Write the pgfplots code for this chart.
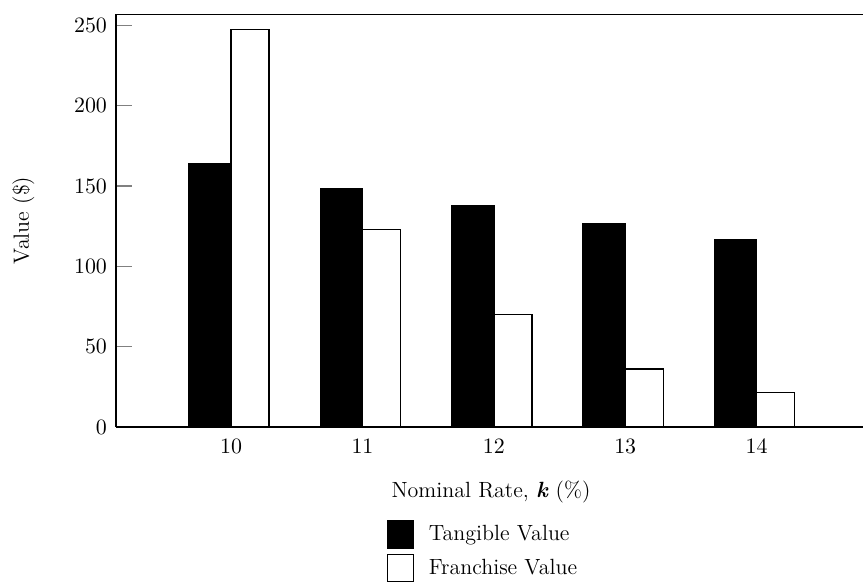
\documentclass[border=0pt]{standalone}
\usepackage{pgfplots}
\pgfplotsset{compat=1.18}
\begin{document}
\begin{tikzpicture}
\begin{axis}[
  scale only axis, width=373.5pt, height=206.5pt,
  font=\fontsize{11}{13}\selectfont,
  xmin=9.124, xmax=14.81, ymin=0, ymax=257,
  axis x line*=bottom, axis y line*=left,
  axis line style={-, line width=0.8pt},
  xtick={10,11,12,13,14},
  ytick={0,50,100,150,200,250},
  major x tick style={draw=none},
  ytick pos=left, tick align=inside,
  major tick length=8pt,
  major y tick style={line width=0.7pt},
  xticklabel style={yshift=5.5pt},
  yticklabel style={xshift=-1pt},
  xlabel={Nominal Rate, \textbf{\textit{k}} (\%)},
  xlabel style={at={(axis description cs:0.502,0)}, anchor=center, yshift=-32.5pt},
  ylabel={Value (\$)},
  ylabel style={at={(axis description cs:-0.124,0.5)}, anchor=center},
  ybar,
  legend image code/.code={\draw[#1, line width=0.7pt] (0pt,-6.75pt) rectangle (13pt,6.75pt);},
  legend style={at={(axis description cs:0.3616,0)}, anchor=north west, yshift=-46.5pt,
    draw=none, fill=none, inner sep=0pt, row sep=2.5pt,
    nodes={inner sep=1pt, anchor=west},
    font=\fontsize{11}{13}\selectfont,
    /tikz/every odd column/.append style={column sep=6.5pt}},
  legend cell align=left,
]
\addplot[draw=black, fill=black, line width=0.7pt, bar width=0.32, bar shift=-0.16]
  coordinates {(10,164) (11,148.5) (12,137.5) (13,126.5) (14,116.5)};
\addlegendentry{Tangible Value}
\addplot[draw=black, fill=white, line width=0.7pt, bar width=0.29, bar shift=0.145]
  coordinates {(10,247.5) (11,123) (12,70) (13,36) (14,21.5)};
\addlegendentry{Franchise Value}
\draw[line width=0.8pt] (rel axis cs:0,1) -- (rel axis cs:1,1);
\coordinate (BL) at (rel axis cs:0,0);
\coordinate (TR) at (rel axis cs:1,1);
\end{axis}
\pgfresetboundingbox
\useasboundingbox ([shift={(-58pt,-78.5pt)}]BL) rectangle ([shift={(0pt,7pt)}]TR);
\end{tikzpicture}
\end{document}
